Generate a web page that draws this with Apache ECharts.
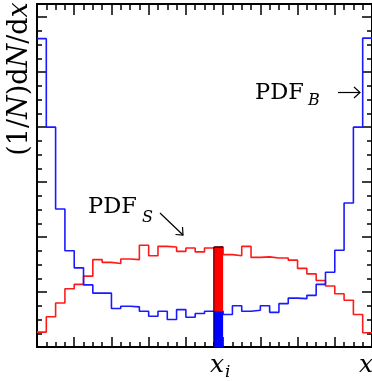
<!DOCTYPE html>
<html>
<head>
<meta charset="utf-8">
<script src="https://cdn.jsdelivr.net/npm/echarts@6/dist/echarts.min.js"></script>
<style>html,body{margin:0;padding:0;background:#fff}#c{width:372px;height:381px}</style>
</head>
<body>
<div id="c"></div>
<script>
// Histogram values per bin (36 bins across the x range)
var blueValues = [5.61, 4.00, 2.51, 1.75, 1.44, 1.13, 0.98, 0.98, 0.70, 0.74, 0.73, 0.65,
                  0.56, 0.65, 0.50, 0.68, 0.54, 0.61, 0.65, 0.65, 0.59, 0.75, 0.65, 0.67,
                  0.75, 0.63, 0.79, 0.89, 0.88, 0.94, 1.14, 1.36, 1.76, 2.62, 4.00, 5.62];
var redValues  = [0.27, 0.55, 0.80, 1.06, 1.14, 1.29, 1.59, 1.54, 1.52, 1.60, 1.59, 1.85,
                  1.66, 1.83, 1.82, 1.74, 1.80, 1.73, 1.80, 1.82, 1.68, 1.66, 1.83, 1.63,
                  1.64, 1.62, 1.62, 1.58, 1.43, 1.33, 1.21, 1.11, 0.97, 0.85, 0.59, 0.26];
var highlightBin = 19;
var nBins = 36;

function stepData(vals) {
  var d = [];
  for (var i = 0; i < vals.length; i++) d.push([i, vals[i]]);
  d.push([vals.length, vals[vals.length - 1]]);
  return d;
}

var SERIF = 'DejaVu Serif';
var chart = echarts.init(document.getElementById('c'));

function xAx(pos, majLen, minLen) {
  return {
    type: 'value', position: pos, min: 0, max: nBins, interval: 4,
    axisLine: {show: true, onZero: false, lineStyle: {color: '#000', width: 2}},
    axisTick: {show: true, inside: true, length: majLen, lineStyle: {color: '#000', width: 1.5}},
    minorTick: {show: true, splitNumber: 4, length: minLen, lineStyle: {color: '#000', width: 1.5}},
    axisLabel: {show: false}, splitLine: {show: false}, minorSplitLine: {show: false}
  };
}
function yAx(pos, interval, len) {
  return {
    type: 'value', position: pos, min: 0, max: 6.24, interval: interval,
    axisLine: {show: true, onZero: false, lineStyle: {color: '#000', width: 2}},
    axisTick: {show: true, inside: true, length: len, lineStyle: {color: '#000', width: 1.5}},
    axisLabel: {show: false}, splitLine: {show: false}
  };
}

chart.setOption({
  animation: false,
  grid: {left: 37, right: 0, top: 4, bottom: 34},
  xAxis: [xAx('bottom', 10, 5), xAx('top', 11, 6)],
  yAxis: [yAx('left', 1, 10), yAx('left', 0.25, 5), yAx('right', 1, 10), yAx('right', 0.25, 5)],
  series: [
    {type: 'line', step: 'end', data: stepData(redValues), showSymbol: false,
     lineStyle: {color: '#ff1a1a', width: 1.6}, z: 2},
    {type: 'line', step: 'end', data: stepData(blueValues), showSymbol: false,
     lineStyle: {color: '#1a1aff', width: 1.6}, z: 3},
    {type: 'custom', z: 5,
     data: [[highlightBin, blueValues[highlightBin], redValues[highlightBin]]],
     renderItem: function (params, api) {
       var b = api.value(0), vb = api.value(1), vr = api.value(2);
       var p0 = api.coord([b, 0]), p1 = api.coord([b + 1, vb]), p2 = api.coord([b + 1, vr]);
       return {type: 'group', children: [
         {type: 'rect', shape: {x: p0[0], y: p1[1], width: p1[0] - p0[0], height: p0[1] - p1[1]},
          style: {fill: '#0000ff'}},
         {type: 'rect', shape: {x: p0[0], y: p2[1], width: p1[0] - p0[0], height: p1[1] - p2[1]},
          style: {fill: '#ff0000'}},
         {type: 'line', shape: {x1: p0[0], y1: p2[1], x2: p1[0], y2: p2[1]},
          style: {stroke: '#400000', lineWidth: 1.5}},
         {type: 'line', shape: {x1: p0[0], y1: p0[1], x2: p0[0], y2: p2[1]},
          style: {stroke: '#000', lineWidth: 1}}
       ]};
     }}
  ],
  graphic: [
    {type: 'text', x: 20, y: 79, rotation: Math.PI / 2,
     style: {text: '(1/{i|N})d{i|N}/d{i|x}', fontFamily: SERIF, fontSize: 27, fill: '#000',
             align: 'center', verticalAlign: 'middle',
             rich: {i: {fontFamily: SERIF, fontStyle: 'italic', fontSize: 27, fill: '#000'}}}},
    {type: 'text', x: 255, y: 93,
     style: {text: 'PDF', fontFamily: SERIF, fontSize: 22.5, fill: '#000', align: 'left', verticalAlign: 'middle'}},
    {type: 'text', x: 308, y: 101,
     style: {text: 'B', fontFamily: SERIF, fontStyle: 'italic', fontSize: 16, fill: '#000', align: 'left', verticalAlign: 'middle'}},
    {type: 'line', shape: {x1: 338, y1: 92.5, x2: 360, y2: 92.5}, style: {stroke: '#000', lineWidth: 1.2}},
    {type: 'polyline', shape: {points: [[354, 87], [360, 92.5], [354, 98]]}, style: {stroke: '#000', lineWidth: 1.2, fill: null}},
    {type: 'text', x: 88, y: 207.5,
     style: {text: 'PDF', fontFamily: SERIF, fontSize: 22.5, fill: '#000', align: 'left', verticalAlign: 'middle'}},
    {type: 'text', x: 142, y: 218,
     style: {text: 'S', fontFamily: SERIF, fontStyle: 'italic', fontSize: 16, fill: '#000', align: 'left', verticalAlign: 'middle'}},
    {type: 'line', shape: {x1: 160, y1: 213, x2: 183, y2: 235}, style: {stroke: '#000', lineWidth: 1.2}},
    {type: 'polyline', shape: {points: [[175.5, 234.5], [183, 235], [182.5, 227]]}, style: {stroke: '#000', lineWidth: 1.2, fill: null}},
    {type: 'text', x: 210, y: 365.5,
     style: {text: 'x', fontFamily: SERIF, fontStyle: 'italic', fontSize: 25, fill: '#000', align: 'left', verticalAlign: 'middle'}},
    {type: 'text', x: 225, y: 372.5,
     style: {text: 'i', fontFamily: SERIF, fontStyle: 'italic', fontSize: 17, fill: '#000', align: 'left', verticalAlign: 'middle'}},
    {type: 'text', x: 359, y: 365.5,
     style: {text: 'x', fontFamily: SERIF, fontStyle: 'italic', fontSize: 25, fill: '#000', align: 'left', verticalAlign: 'middle'}}
  ]
});
</script>
</body>
</html>
